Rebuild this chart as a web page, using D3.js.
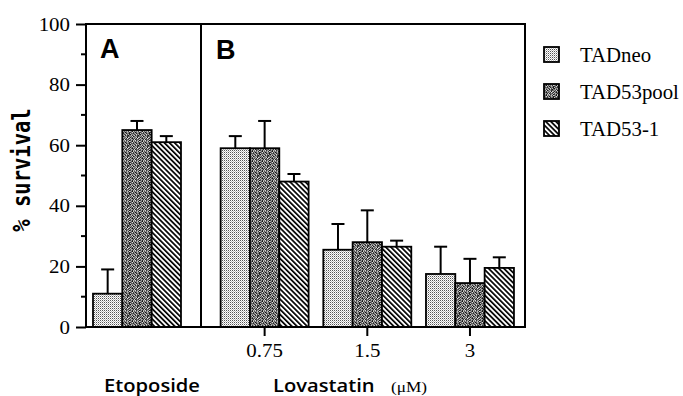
<!DOCTYPE html>
<html>
<head>
<meta charset="utf-8">
<script src="https://cdn.jsdelivr.net/npm/d3@7"></script>
<style>
  body { margin: 0; background: #fff; }
  svg { display: block; }
</style>
</head>
<body>
<div id="chart"></div>
<script>
const width = 683;
const height = 396;

// séries et valeurs
const series = ["TADneo", "TAD53pool", "TAD53-1"];
const etoposideMean = [11, 65, 61];
const etoposideErr = [8, 3, 2];
const doses = ["0.75", "1.5", "3"];
const tadneoMean = [59, 25.5, 17.5];
const tadneoErr = [4, 8.5, 9];
const poolMean = [59, 28, 14.5];
const poolErr = [9, 10.5, 8];
const t531Mean = [48, 26.5, 19.5];
const t531Err = [2.5, 2, 3.5];
const yTicks = [0, 20, 40, 60, 80, 100];
const yMinor = [10, 30, 50, 70, 90];

const plotLeft = 86, plotRight = 525, plotTop = 24, plotBottom = 327, divider = 201;

const serif = "Liberation Serif, Times New Roman, serif";

// étire un texte horizontalement (le scan est un peu élargi)
function stretch(sel, k) {
    sel.each(function() {
        const w = this.getComputedTextLength();
        d3.select(this)
            .attr("textLength", w * k)
            .attr("lengthAdjust", "spacingAndGlyphs");
    });
}

const svg = d3.select("#chart")
    .append("svg")
    .attr("width", width)
    .attr("height", height);

// motifs de remplissage
const defs = svg.append("defs");

const p1 = defs.append("pattern")
    .attr("id", "pat0")
    .attr("patternUnits", "userSpaceOnUse")
    .attr("width", 2).attr("height", 2);
p1.append("rect").attr("width", 2).attr("height", 2).attr("fill", "#fff");
p1.append("rect").attr("x", 0).attr("y", 0).attr("width", 1).attr("height", 1).attr("fill", "#555");
p1.append("rect").attr("x", 1).attr("y", 1).attr("width", 1).attr("height", 1).attr("fill", "#bbb");

// tuile fixe pour le gris granuleux (un chiffre hexa par pixel)
const grain = [
    "4a2c8e39b1",
    "b61d5a7c3e",
    "38e4a16b92",
    "d5739c2861",
    "1a8b46e5c3",
    "7c39d2a418",
    "a5e16b8357",
    "294c87d1ea",
    "c6185b3f72",
    "5b93e2674d"
];
const p2 = defs.append("pattern")
    .attr("id", "pat1")
    .attr("patternUnits", "userSpaceOnUse")
    .attr("width", 10).attr("height", 10);
grain.forEach((row, ry) => {
    row.split("").forEach((c, rx) => {
        const v = parseInt(c, 16) * 15 + 5;
        p2.append("rect")
            .attr("x", rx).attr("y", ry)
            .attr("width", 1).attr("height", 1)
            .attr("fill", d3.rgb(v, v, v));
    });
});

const p3 = defs.append("pattern")
    .attr("id", "pat2")
    .attr("patternUnits", "userSpaceOnUse")
    .attr("width", 3.6).attr("height", 10)
    .attr("patternTransform", "rotate(-45)");
p3.append("rect").attr("width", 3.6).attr("height", 10).attr("fill", "#fff");
p3.append("rect").attr("width", 1.7).attr("height", 10).attr("fill", "#000");

const fills = ["url(#pat0)", "url(#pat1)", "url(#pat2)"];

// échelles
const y = d3.scaleLinear().domain([0, 100]).range([plotBottom, plotTop]);

const xA = d3.scaleBand().domain(["Etoposide"]).range([93, 183]);
const xB = d3.scaleBand().domain(doses)
    .range([213.3, 521.3])
    .paddingInner(0.143)
    .paddingOuter(0.0715);

const inner = d3.scaleBand().domain(series).range([0, xB.bandwidth()]);

// lignes des données
const rows = [];
series.forEach((s, j) => {
    rows.push({ group: "Etoposide", x0: xA("Etoposide"), s, j, v: etoposideMean[j], e: etoposideErr[j] });
});
const lovaMeans = [tadneoMean, poolMean, t531Mean];
const lovaErrs = [tadneoErr, poolErr, t531Err];
doses.forEach((d, i) => {
    series.forEach((s, j) => {
        rows.push({ group: d, x0: xB(d), s, j, v: lovaMeans[j][i], e: lovaErrs[j][i] });
    });
});

// barres d'erreur (derrière les barres)
const err = svg.append("g")
    .attr("stroke", "#000")
    .attr("stroke-width", 2);
rows.forEach(r => {
    const cx = r.x0 + inner(r.s) + inner.bandwidth() / 2;
    err.append("line")
        .attr("x1", cx).attr("x2", cx)
        .attr("y1", y(r.v)).attr("y2", y(r.v + r.e));
    err.append("line")
        .attr("x1", cx - 6.5).attr("x2", cx + 6.5)
        .attr("y1", y(r.v + r.e)).attr("y2", y(r.v + r.e));
});

svg.append("g")
    .selectAll("rect")
    .data(rows)
    .enter()
    .append("rect")
    .attr("x", d => d.x0 + inner(d.s))
    .attr("y", d => y(d.v))
    .attr("width", inner.bandwidth())
    .attr("height", d => y(0) - y(d.v))
    .attr("fill", d => fills[d.j])
    .attr("stroke", "#000")
    .attr("stroke-width", 1.8);

// cadre
const frame = svg.append("g")
    .attr("stroke", "#000")
    .attr("stroke-width", 2)
    .attr("fill", "none");
frame.append("rect")
    .attr("x", plotLeft).attr("y", plotTop)
    .attr("width", plotRight - plotLeft).attr("height", plotBottom - plotTop);
frame.append("line")
    .attr("x1", divider).attr("x2", divider)
    .attr("y1", plotTop).attr("y2", plotBottom);

// axe des y
const yAxis = svg.append("g")
    .attr("transform", `translate(${plotLeft},0)`)
    .call(d3.axisLeft(y).tickValues(yTicks).tickSize(10).tickPadding(6));
yAxis.select(".domain").remove();
yAxis.selectAll("line").attr("stroke-width", 2);
yAxis.selectAll("text")
    .attr("font-family", serif)
    .attr("font-size", 19)
    .attr("fill", "#000")
    .call(stretch, 1.1);

svg.append("g")
    .selectAll("line")
    .data(yMinor)
    .enter()
    .append("line")
    .attr("x1", plotLeft - 5).attr("x2", plotLeft)
    .attr("y1", d => y(d)).attr("y2", d => y(d))
    .attr("stroke", "#000")
    .attr("stroke-width", 2);

// axe des x (doses)
const xAxis = svg.append("g")
    .attr("transform", `translate(0,${plotBottom})`)
    .call(d3.axisBottom(xB).tickSize(9).tickPadding(8));
xAxis.select(".domain").remove();
xAxis.selectAll("line").attr("stroke-width", 2);
xAxis.selectAll("text")
    .attr("font-family", serif)
    .attr("font-size", 19)
    .attr("fill", "#000")
    .call(stretch, 1.1);

// titres
svg.append("text")
    .attr("transform", "translate(30,170) scale(1.2,1) rotate(-90)")
    .attr("text-anchor", "middle")
    .attr("font-family", "DejaVu Sans Mono, monospace")
    .attr("font-weight", "bold")
    .attr("font-size", 20.5)
    .text("% survival");

svg.append("text")
    .attr("x", 152).attr("y", 392)
    .attr("text-anchor", "middle")
    .attr("font-family", "Open Sans, DejaVu Sans, sans-serif")
    .attr("font-weight", 600)
    .attr("font-size", 18)
    .text("Etoposide")
    .call(stretch, 1.12);

svg.append("text")
    .attr("x", 273).attr("y", 392)
    .attr("font-family", "Open Sans, DejaVu Sans, sans-serif")
    .attr("font-weight", 600)
    .attr("font-size", 18)
    .text("Lovastatin")
    .call(stretch, 1.12);

svg.append("text")
    .attr("x", 391).attr("y", 392)
    .attr("font-family", serif)
    .attr("font-size", 15)
    .text("(μM)")
    .call(stretch, 1.15);

svg.append("text")
    .attr("x", 100).attr("y", 58)
    .attr("font-family", "Liberation Sans, Arial, sans-serif")
    .attr("font-weight", "bold")
    .attr("font-size", 27)
    .text("A");
svg.append("text")
    .attr("x", 216).attr("y", 59)
    .attr("font-family", "Liberation Sans, Arial, sans-serif")
    .attr("font-weight", "bold")
    .attr("font-size", 27)
    .text("B");

// légende
const legend = svg.append("g")
    .selectAll("g")
    .data(series)
    .enter()
    .append("g")
    .attr("transform", (d, i) => `translate(544,${47 + i * 37})`);
legend.append("rect")
    .attr("width", 15).attr("height", 15)
    .attr("fill", (d, i) => fills[i])
    .attr("stroke", "#000")
    .attr("stroke-width", 1.8);
legend.append("text")
    .attr("x", 36).attr("y", 15)
    .attr("font-family", serif)
    .attr("font-size", 20)
    .text(d => d)
    .call(stretch, 1.04);
</script>
</body>
</html>
